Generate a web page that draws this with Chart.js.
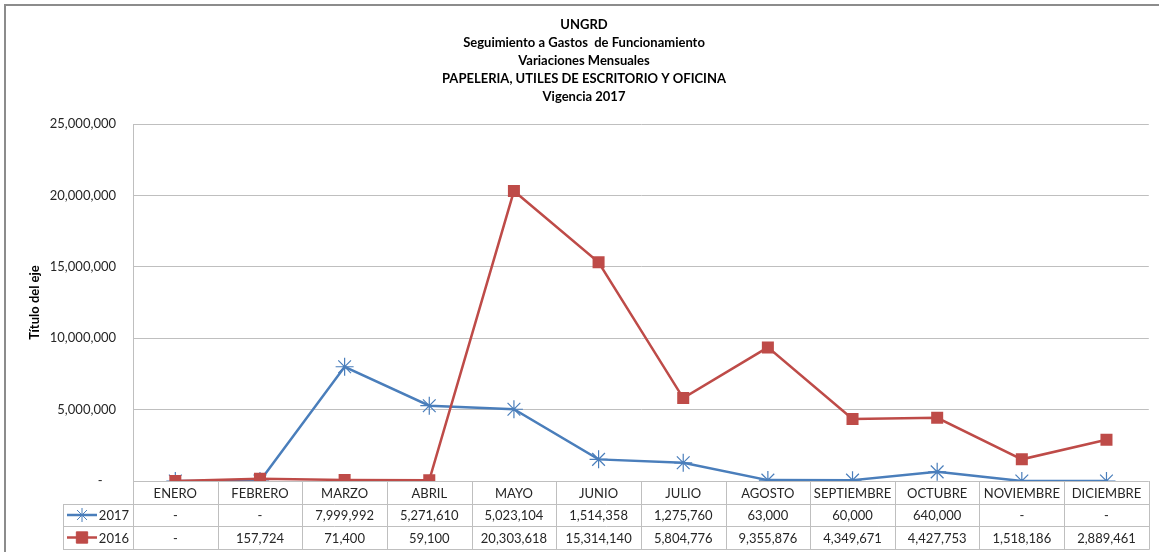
<!DOCTYPE html>
<html>
<head>
<meta charset="utf-8">
<title>UNGRD - Papeleria</title>
<script src="https://cdn.jsdelivr.net/npm/chart.js@4/dist/chart.umd.min.js"></script>
<style>
  body { margin: 0; background: #fff; }
  #wrap { width: 1159px; height: 552px; }
</style>
</head>
<body>
<div id="wrap"><canvas id="lineChart" width="1159" height="552"></canvas></div>
<script>
const months = ['ENERO', 'FEBRERO', 'MARZO', 'ABRIL', 'MAYO', 'JUNIO', 'JULIO', 'AGOSTO', 'SEPTIEMBRE', 'OCTUBRE', 'NOVIEMBRE', 'DICIEMBRE'];
const values2017 = [0, 0, 7999992, 5271610, 5023104, 1514358, 1275760, 63000, 60000, 640000, 0, 0];
const values2016 = [0, 157724, 71400, 59100, 20303618, 15314140, 5804776, 9355876, 4349671, 4427753, 1518186, 2889461];
const yTicks = [0, 5000000, 10000000, 15000000, 20000000, 25000000];
const titleLines = ['UNGRD', 'Seguimiento a Gastos  de Funcionamiento', 'Variaciones Mensuales', 'PAPELERIA, UTILES DE ESCRITORIO Y OFICINA', 'Vigencia 2017'];
const axisTitle = 'Título del eje';

const blue = '#4a7ebb';
const red = '#be4b48';
const gridColor = '#bfbfbf';
const fontFamily = 'Lato, "Open Sans", sans-serif';

// format like the excel accounting format
function fmt(v) {
  return v === 0 ? '-' : v.toLocaleString('en-US');
}

// title, axis title, frame and the data table under the x axis
const extrasPlugin = {
  id: 'extras',
  afterDraw(chart) {
    const ctx = chart.ctx;
    const area = chart.chartArea;
    const x = chart.scales.x;
    ctx.save();

    // outer frame
    ctx.strokeStyle = '#8c8c8c';
    ctx.lineWidth = 2;
    ctx.beginPath();
    ctx.moveTo(5, 552);
    ctx.lineTo(5, 5);
    ctx.lineTo(1159, 5);
    ctx.stroke();

    // title
    ctx.fillStyle = '#000';
    ctx.font = 'bold 13px ' + fontFamily;
    ctx.textAlign = 'center';
    ctx.textBaseline = 'middle';
    titleLines.forEach((line, i) => {
      ctx.fillText(line, 584, 25 + i * 18);
    });

    // y axis title
    ctx.save();
    ctx.translate(35, (area.top + area.bottom) / 2);
    ctx.rotate(-Math.PI / 2);
    ctx.font = 'bold 13px ' + fontFamily;
    ctx.fillText(axisTitle, 0, 0);
    ctx.restore();

    // table
    const cellW = (area.right - area.left) / months.length;
    const top = area.bottom;
    const row1 = top + 23;
    const row2 = row1 + 22;
    const bottom = row2 + 23;
    const legendLeft = 63;

    ctx.strokeStyle = gridColor;
    ctx.lineWidth = 1;
    ctx.beginPath();
    for (let i = 0; i <= months.length; i++) {
      const px = Math.round(area.left + i * cellW) + 0.5;
      ctx.moveTo(px, top);
      ctx.lineTo(px, bottom);
    }
    ctx.moveTo(legendLeft + 0.5, row1);
    ctx.lineTo(legendLeft + 0.5, bottom);
    [row1, row2, bottom].forEach(y => {
      ctx.moveTo(legendLeft, y + 0.5);
      ctx.lineTo(area.right + 1, y + 0.5);
    });
    ctx.stroke();

    ctx.fillStyle = '#262626';
    ctx.font = '13px ' + fontFamily;
    ctx.textAlign = 'center';
    months.forEach((m, i) => {
      const cx = x.getPixelForValue(i);
      ctx.fillText(m, cx, (top + row1) / 2 + 1);
      ctx.fillText(fmt(values2017[i]), cx, (row1 + row2) / 2 + 1);
      ctx.fillText(fmt(values2016[i]), cx, (row2 + bottom) / 2 + 1);
    });

    // legend keys in the table
    const drawKey = (y, color, style, label) => {
      ctx.strokeStyle = color;
      ctx.lineWidth = 2.5;
      ctx.beginPath();
      ctx.moveTo(67, y);
      ctx.lineTo(97, y);
      ctx.stroke();
      ctx.lineWidth = 1;
      Chart.helpers.drawPoint(ctx, {
        pointStyle: style,
        radius: style === 'rect' ? 8 : 7,
        rotation: 0,
        borderWidth: 1
      }, 82, y);
      ctx.fillStyle = '#262626';
      ctx.textAlign = 'right';
      ctx.fillText(label, 129, y + 1);
    };
    ctx.fillStyle = blue;
    drawKey((row1 + row2) / 2, blue, 'star', '2017');
    ctx.fillStyle = red;
    drawKey((row2 + bottom) / 2, red, 'rect', '2016');

    ctx.restore();
  }
};

const ctx = document.getElementById('lineChart').getContext('2d');

const myLineChart = new Chart(ctx, {
  type: 'line',
  data: {
    labels: months,
    datasets: [
      {
        label: '2017',
        data: values2017,
        borderColor: blue,
        backgroundColor: blue,
        borderWidth: 2.5,
        pointStyle: 'star',
        pointRadius: 9,
        pointBorderWidth: 1.2,
        pointBorderColor: blue,
        tension: 0,
        order: 2
      },
      {
        label: '2016',
        data: values2016,
        borderColor: red,
        backgroundColor: red,
        borderWidth: 2.5,
        pointStyle: 'rect',
        pointRadius: 8.5,
        pointBorderWidth: 0,
        tension: 0,
        order: 1
      }
    ]
  },
  options: {
    responsive: false,
    animation: false,
    layout: {
      padding: { top: 124, bottom: 71, left: 0, right: 10 }
    },
    plugins: {
      legend: { display: false },
      title: { display: false },
      tooltip: { enabled: false }
    },
    scales: {
      x: {
        offset: true,
        grid: { display: false },
        border: { display: false },
        ticks: { display: false },
        afterFit(scale) { scale.height = 0; }
      },
      y: {
        min: 0,
        max: 25000000,
        afterFit(scale) { scale.width = 133; },
        afterBuildTicks(scale) { scale.ticks = yTicks.map(v => ({ value: v })); },
        grid: { color: gridColor, drawTicks: false },
        border: { color: gridColor },
        ticks: {
          padding: 17,
          color: '#262626',
          font: { family: fontFamily, size: 13 },
          callback: v => v === 0 ? '-    ' : v.toLocaleString('en-US')
        }
      }
    }
  },
  plugins: [extrasPlugin]
});
</script>
</body>
</html>
